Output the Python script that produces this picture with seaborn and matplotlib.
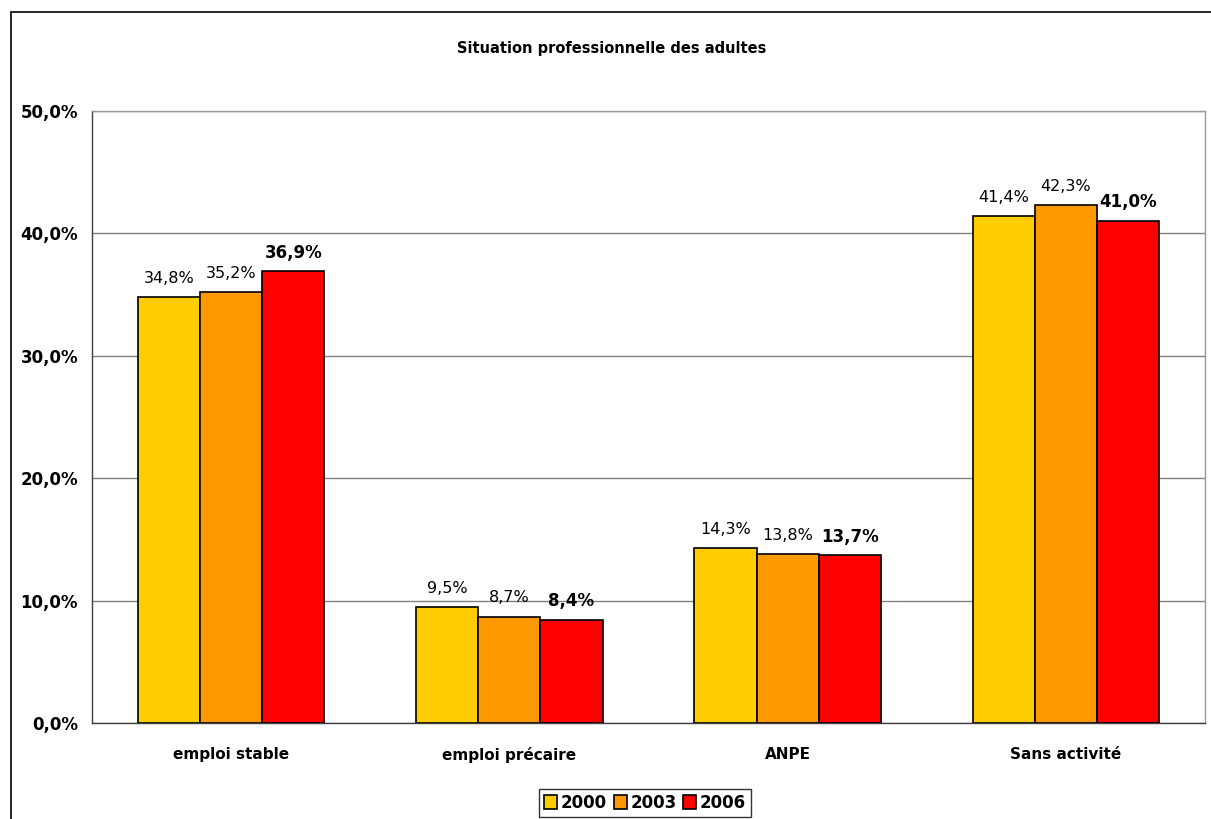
import numpy as np
import pandas as pd
import seaborn as sns
import matplotlib.pyplot as plt
from matplotlib.patches import Rectangle
from matplotlib.ticker import FuncFormatter, MultipleLocator

# data
categories = ["emploi stable", "emploi précaire", "ANPE", "Sans activité"]
years = ["2000", "2003", "2006"]
v2000 = [34.8, 9.5, 14.3, 41.4]
v2003 = [35.2, 8.7, 13.8, 42.3]
v2006 = [36.9, 8.4, 13.7, 41.0]
colors = ["#FFCC00", "#FF9900", "#FF0000"]

df = pd.DataFrame({
    "categorie": categories * 3,
    "annee": [y for y in years for _ in categories],
    "valeur": v2000 + v2003 + v2006,
})

sns.set_style("white")
plt.rcParams["font.family"] = ["DejaVu Sans"]
plt.rcParams["text.color"] = "black"
plt.rcParams["ytick.labelcolor"] = "black"
plt.rcParams["xtick.labelcolor"] = "black"

fig = plt.figure(figsize=(12.11, 8.19), dpi=100)
ax = fig.add_axes([92 / 1211, 1 - 723 / 819, (1205 - 92) / 1211, (723 - 111) / 819])

sns.barplot(data=df, x="categorie", y="valeur", hue="annee", palette=colors,
            saturation=1, width=0.67, gap=0, edgecolor="black", linewidth=1.2,
            ax=ax, zorder=3)

ax.set_ylim(0, 50)
ax.set_xlim(-0.5, 3.5)
ax.yaxis.set_major_locator(MultipleLocator(10))
ax.yaxis.set_major_formatter(FuncFormatter(lambda v, p: f"{v:.1f}%".replace(".", ",")))
ax.grid(axis="y", color="#808080", linewidth=1, zorder=0)
ax.set_xlabel("")
ax.set_ylabel("")

for s in ["top", "right"]:
    ax.spines[s].set_color("#999999")
    ax.spines[s].set_linewidth(1)
for s in ["left", "bottom"]:
    ax.spines[s].set_color("#404040")
    ax.spines[s].set_linewidth(1)

ax.tick_params(axis="y", direction="out", length=5, width=1, color="#404040",
               labelsize=12, pad=5)
for lbl in ax.get_yticklabels():
    lbl.set_fontweight("bold")

# x ticks at category boundaries, labels centered under groups
ax.set_xticks([-0.5, 0.5, 1.5, 2.5, 3.5])
ax.set_xticklabels([])
ax.tick_params(axis="x", direction="out", length=6, width=1, color="#404040")
for i, c in enumerate(categories):
    ax.text(i, -2.6, c, ha="center", va="center", fontsize=11, fontweight="bold")

# value labels, 2006 in bold
for cont, yr in zip(ax.containers, years):
    labels = [f"{b.get_height():.1f}%".replace(".", ",") for b in cont]
    if yr == "2006":
        ax.bar_label(cont, labels=labels, padding=7, fontsize=12, fontweight="bold")
    else:
        ax.bar_label(cont, labels=labels, padding=8, fontsize=11.5)

fig.text(0.505, 1 - 48 / 819, "Situation professionnelle des adultes",
         ha="center", va="center", fontsize=10.5, fontweight="bold")

leg = ax.legend(loc="center", bbox_to_anchor=(645 / 1211, 1 - 803 / 819),
                bbox_transform=fig.transFigure, ncol=3, frameon=True,
                fancybox=False, edgecolor="black", handlelength=0.8,
                handleheight=0.9, handletextpad=0.2, columnspacing=0.4,
                borderpad=0.3, borderaxespad=0, prop={"weight": "bold", "size": 12})
leg.get_frame().set_linewidth(1)

# outer chart border (clipped at right and bottom as in the reference)
fig.patches.append(Rectangle((11 / 1211, -0.1), 1.2, 1 - 12 / 819 + 0.1,
                             transform=fig.transFigure, fill=False,
                             edgecolor="black", linewidth=1.2))

fig.savefig("out.png", dpi=100, facecolor="white")
